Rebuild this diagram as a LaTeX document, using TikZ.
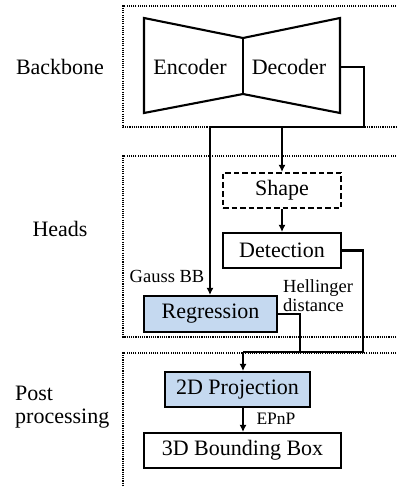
\documentclass[tikz,border=0pt]{standalone}
\usepackage{fontspec}
\newfontfamily\tnr{Liberation Serif}
\usetikzlibrary{arrows.meta}
\definecolor{headblue}{RGB}{197,217,240}
\tikzset{
  blk/.style={draw, line width=2.1pt, minimum width=#1, minimum height=35pt, inner sep=0pt,
              font=\tnr\fontsize{22}{24}\selectfont},
  blk/.default=118pt,
  frame/.style={line width=1.1pt, dash pattern=on 1.1pt off 1.1pt},
  wire/.style={line width=2.1pt},
  arr/.style={wire, -{Latex[length=7pt,width=7pt]}},
  big/.style={font=\tnr\fontsize{22}{23}\selectfont, inner sep=0pt},
  small/.style={font=\tnr\fontsize{18.5}{19}\selectfont, inner sep=0pt},
}
\begin{document}
\begin{tikzpicture}[x=1pt, y=-1pt]
\useasboundingbox (0,0) rectangle (396,486);

% stage frames (open to the right)
\draw[frame] (396,6) -- (123,6) -- (123,127) -- (396,127);
\draw[frame] (396,156) -- (123,156) -- (123,337) -- (396,337);
\draw[frame] (396,353) -- (123,353) -- (123,486);

% stage labels
\node[big] (lbb) at (60,67) {Backbone};
\node[big] (lhd) at (60,229) {Heads};
\node[big, align=left, anchor=west] (lpp) at (15,407.5) {Post\\processing};

% encoder-decoder hourglass
\draw[line width=2.1pt, line join=miter]
  (144,18) -- (243,38) -- (340,18) -- (340,113) -- (243,94) -- (144,113) -- cycle;
\draw[line width=2.1pt] (243,38) -- (243,94);
\node[big] (enc) at (190,67) {Encoder};
\node[big] (dec) at (289,67) {Decoder};
\coordinate (decout) at (340,67);

% head blocks
\node[blk, dash pattern=on 5.5pt off 3pt] (shape) at (282,190.5) {Shape};
\node[blk] (det) at (282,250.5) {Detection};
\node[blk=133pt, fill=headblue, minimum height=36pt] (reg) at (210.5,314) {Regression};

% post-processing blocks
\node[blk=145pt, fill=headblue] (proj) at (237.5,389.5) {2D Projection};
\node[blk=197pt] (bbox) at (242.5,450.5) {3D Bounding Box};

% feature bus from the decoder
\coordinate (busR) at (364,127);
\coordinate (busS) at (282,127);
\coordinate (busL) at (210,127);
\draw[wire] (decout) -| (busR) -- (busL);
\draw[arr] (busL) -- (busL |- reg.north);
\draw[arr] (busS) -- (shape.north);
\draw[arr] (shape.south) -- (det.north);

% head outputs merged into the projection
\coordinate (detR) at (363,352);
\coordinate (regR) at (300,352);
\coordinate (merge) at (243,352);
\draw[wire] (det.east) -| (detR) -- (regR);
\draw[wire] (reg.east) -| (regR) -- (merge);
\draw[arr] (merge) -- (merge |- proj.north);
\draw[arr] (merge |- proj.south) -- (merge |- bbox.north);

% connector labels
\node[small] (gbb) at (167,276) {Gauss BB};
\node[small, align=left, anchor=west] (hd) at (283,295.5) {Hellinger\\distance};
\node[small, font=\tnr\fontsize{17.5}{19}\selectfont] (epnp) at (276,419) {EPnP};
\end{tikzpicture}
\end{document}
